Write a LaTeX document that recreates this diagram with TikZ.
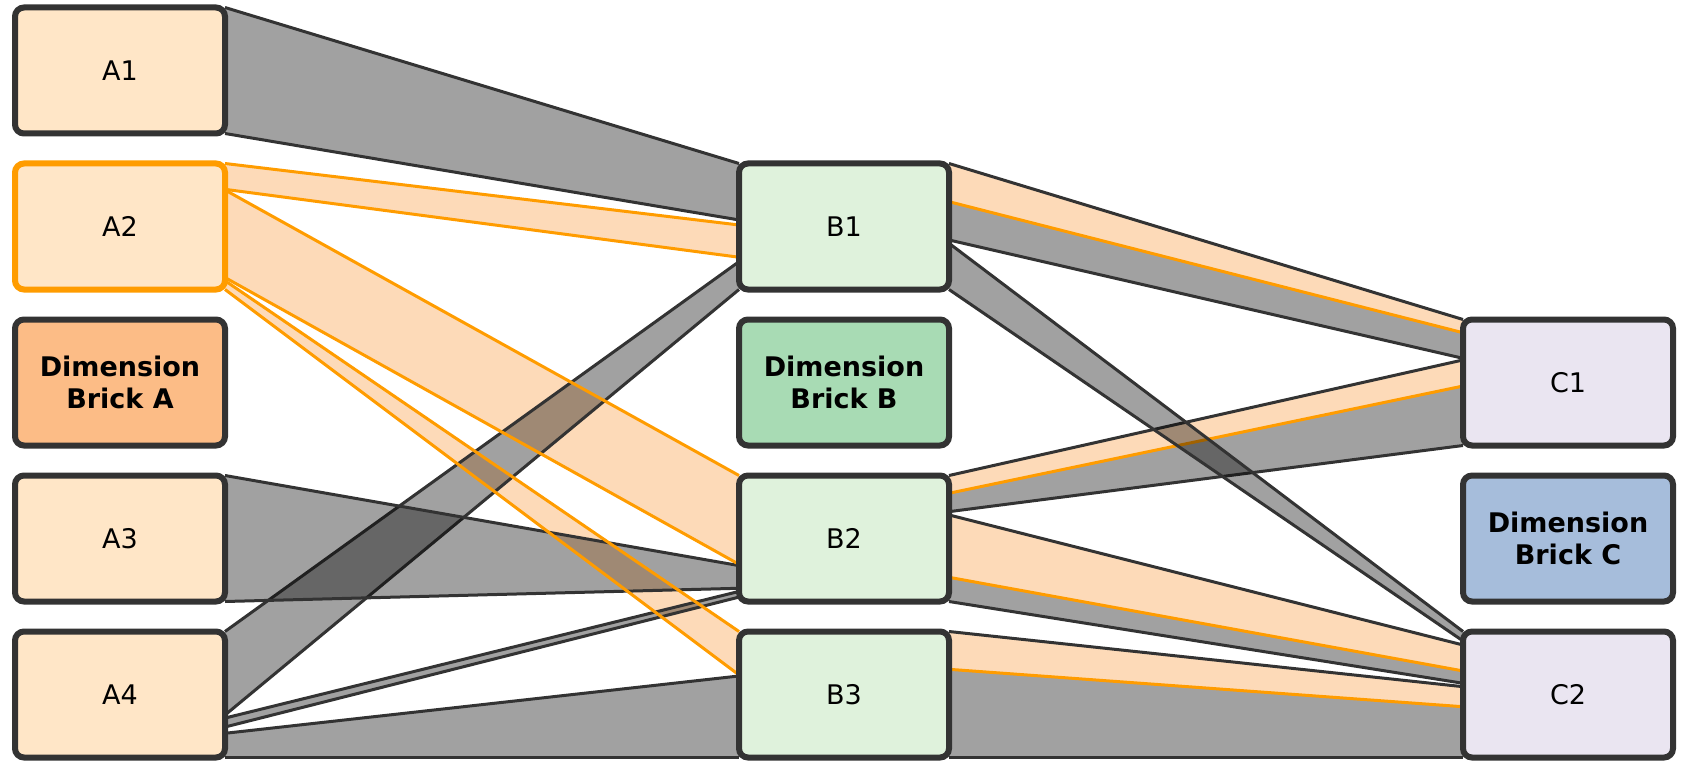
\documentclass[tikz,border=0pt]{standalone}
\usepackage{fontspec}
\setmainfont{DejaVu Sans}
\usetikzlibrary{calc}
\pgfdeclarelayer{peach}
\pgfdeclarelayer{bands}
\pgfdeclarelayer{hilines}
\pgfsetlayers{peach,bands,hilines,main}

\definecolor{edgedark}{HTML}{333333}
\definecolor{hiorange}{HTML}{FF9C00}
\definecolor{peachtone}{RGB}{253,218,184}
\definecolor{afill}{HTML}{FFE6C7}
\definecolor{bfill}{HTML}{DFF2DC}
\definecolor{cfill}{HTML}{EAE5F1}
\definecolor{dimafill}{HTML}{FCBC86}
\definecolor{dimbfill}{HTML}{A8DBB4}
\definecolor{dimcfill}{HTML}{A6BDDB}

\tikzset{
  brick/.style={draw=edgedark, line width=6pt, rounded corners=9pt,
    minimum width=210pt, minimum height=126pt, outer sep=0pt, inner sep=0pt,
    font=\fontsize{27}{32}\selectfont, align=center},
  hibrick/.style={brick, draw=hiorange},
  dimbrick/.style={brick, font=\fontsize{27}{32}\selectfont\bfseries},
  grayfill/.style={fill=black, fill opacity=0.37},
  peachfill/.style={fill=peachtone},
  darkedge/.style={draw=edgedark, line width=3pt},
  orangeedge/.style={draw=hiorange, line width=3pt},
}

% end points of a band on the right side of #1 and the left side of #4
\newcommand\bandends[6]{%
  \coordinate (s0) at ($(#1.north east)!#2!(#1.south east)$);
  \coordinate (s1) at ($(#1.north east)!#3!(#1.south east)$);
  \coordinate (t0) at ($(#4.north west)!#5!(#4.south west)$);
  \coordinate (t1) at ($(#4.north west)!#6!(#4.south west)$);
}
% plain grey flow
\newcommand\grayband[6]{%
  \bandends{#1}{#2}{#3}{#4}{#5}{#6}
  \begin{pgfonlayer}{bands}
    \path[grayfill] (s0) -- (t0) -- (t1) -- (s1) -- cycle;
    \draw[darkedge] (s0) -- (t0);
    \draw[darkedge] (s1) -- (t1);
  \end{pgfonlayer}
}
% highlighted flow
\newcommand\hiband[6]{%
  \bandends{#1}{#2}{#3}{#4}{#5}{#6}
  \begin{pgfonlayer}{peach}
    \path[peachfill] (s0) -- (t0) -- (t1) -- (s1) -- cycle;
  \end{pgfonlayer}
  \begin{pgfonlayer}{hilines}
    \draw[orangeedge] (s0) -- (t0);
    \draw[orangeedge] (s1) -- (t1);
  \end{pgfonlayer}
}
% flow whose upper part is highlighted: src, s0, sm, s1, dst, t0, tm, t1
\newcommand\splitband[8]{%
  \bandends{#1}{#2}{#4}{#5}{#6}{#8}
  \coordinate (sm) at ($(#1.north east)!#3!(#1.south east)$);
  \coordinate (tm) at ($(#5.north west)!#7!(#5.south west)$);
  \begin{pgfonlayer}{peach}
    \path[peachfill] (s0) -- (t0) -- (tm) -- (sm) -- cycle;
  \end{pgfonlayer}
  \begin{pgfonlayer}{bands}
    \path[grayfill] (sm) -- (tm) -- (t1) -- (s1) -- cycle;
    \draw[orangeedge] (sm) -- (tm);
    \draw[darkedge] (s0) -- (t0);
    \draw[darkedge] (s1) -- (t1);
  \end{pgfonlayer}
}

\begin{document}
\begin{tikzpicture}[x=1pt, y=-1pt]
\useasboundingbox (0,0) rectangle (1683,762);

% column A
\node[brick, fill=afill]     (A1) at (120,70.5)  {A1};
\node[hibrick, fill=afill]   (A2) at (120,226.5) {A2};
\node[dimbrick, fill=dimafill] (DA) at (120,382.5) {Dimension\\Brick A};
\node[brick, fill=afill]     (A3) at (120,538.5) {A3};
\node[brick, fill=afill]     (A4) at (120,694.5) {A4};

% column B
\node[brick, fill=bfill]     (B1) at (844,226.5) {B1};
\node[dimbrick, fill=dimbfill] (DB) at (844,382.5) {Dimension\\Brick B};
\node[brick, fill=bfill]     (B2) at (844,538.5) {B2};
\node[brick, fill=bfill]     (B3) at (844,694.5) {B3};

% column C
\node[brick, fill=cfill]     (C1) at (1568,382.5) {C1};
\node[dimbrick, fill=dimcfill] (DC) at (1568,538.5) {Dimension\\Brick C};
\node[brick, fill=cfill]     (C2) at (1568,694.5) {C2};

% flows into B1
\grayband{A1}{0}{1}{B1}{0}{0.448}
\hiband{A2}{0}{0.205}{B1}{0.488}{0.744}
\grayband{A4}{0}{0.663}{B1}{0.779}{1}
% flows into B2
\hiband{A2}{0.21}{0.905}{B2}{0}{0.705}
\grayband{A3}{0}{1}{B2}{0.715}{0.895}
\grayband{A4}{0.687}{0.758}{B2}{0.92}{0.965}
% flows into B3
\hiband{A2}{0.93}{1}{B3}{0}{0.345}
\grayband{A4}{0.808}{1}{B3}{0.353}{1}
% flows into C1
\splitband{B1}{0}{0.303}{0.607}{C1}{0}{0.105}{0.308}
\splitband{B2}{0}{0.141}{0.287}{C1}{0.321}{0.528}{1}
% flows into C2
\grayband{B1}{0.633}{1}{C2}{0}{0.075}
\splitband{B2}{0.313}{0.808}{1}{C2}{0.107}{0.313}{0.411}
\splitband{B3}{0}{0.30}{1}{C2}{0.438}{0.597}{1}
\end{tikzpicture}
\end{document}
